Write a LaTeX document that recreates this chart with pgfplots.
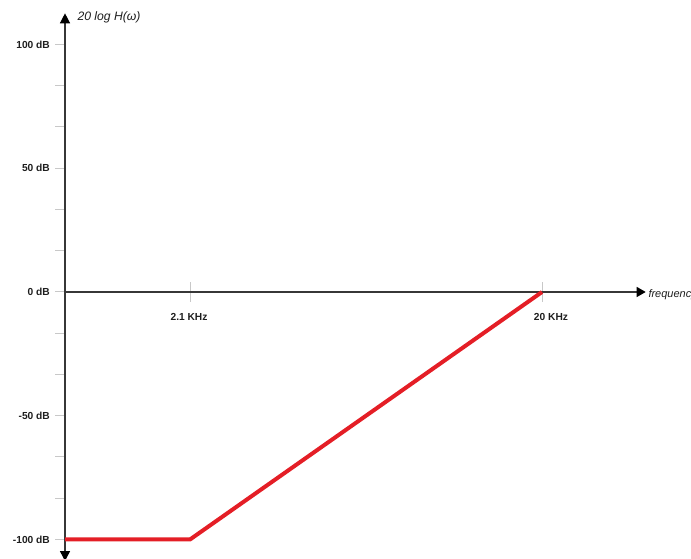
\documentclass[border=0pt]{standalone}
\usepackage{fontspec}
\setmainfont{Liberation Sans}
\usepackage{pgfplots}
\pgfplotsset{compat=1.18}
\usetikzlibrary{arrows.meta}
\definecolor{redline}{RGB}{228,30,38}
\definecolor{axisgray}{RGB}{55,55,55}
\definecolor{tickgray}{RGB}{200,200,200}
\definecolor{labelgray}{RGB}{30,30,30}
\begin{document}
\begin{tikzpicture}
\begin{axis}[scale only axis, width=691pt, height=559pt,
  xmin=-65, xmax=626, ymin=-107.88, ymax=117.98,
  axis lines=none, clip=false]
% y tick marks
\pgfplotsinvokeforeach{-100,-83.333,-66.667,-50,-33.333,-16.667,0,16.667,33.333,50,66.667,83.333,100}{
  \draw[tickgray, line width=1pt] (axis cs:-10,#1) -- (axis cs:0,#1);
}
% x tick marks
\draw[tickgray, line width=1pt] (axis cs:125,-4.04) -- (axis cs:125,4.04);
\draw[tickgray, line width=1pt] (axis cs:477,-4.04) -- (axis cs:477,4.04);
% axes
\draw[axisgray, line width=1.3pt, -{Triangle[length=9pt,width=10pt,color=black]}] (axis cs:0,0) -- (axis cs:580.7,0);
\draw[axisgray, line width=1.3pt, {Triangle[length=10pt,width=10pt,color=black]}-{Triangle[length=10pt,width=10pt,color=black]}] (axis cs:0,-108.7) -- (axis cs:0,112.6);
% y tick labels
\foreach \v/\t in {100/100 dB,50/50 dB,0/0 dB,-50/-50 dB,-100/-100 dB}{
  \edef\temp{\noexpand\node[anchor=east, text=labelgray, font=\noexpand\bfseries\noexpand\fontsize{10.2}{11}\noexpand\selectfont, inner sep=0pt] at (axis cs:-15,\v) {\t};}
  \temp
}
% x tick labels
\node[text=labelgray, font=\bfseries\fontsize{10.2}{11}\selectfont, inner sep=0pt] at (axis cs:124,-10) {2.1 KHz};
\node[text=labelgray, font=\bfseries\fontsize{10.2}{11}\selectfont, inner sep=0pt] at (axis cs:486,-10) {20 KHz};
% axis labels
\node[anchor=west, text=labelgray, font=\itshape\fontsize{12.2}{14}\selectfont, inner sep=0pt] at (axis cs:12.3,111) {20 log H(ω)};
\node[anchor=west, text=labelgray, font=\itshape\fontsize{11}{13}\selectfont, inner sep=0pt] at (axis cs:583.3,-1.2) {frequency};
% data
\addplot[redline, line width=4pt, line join=round] coordinates {(0,-100) (125,-100) (477,0)};
\end{axis}
\pgfresetboundingbox
\path[use as bounding box] (current axis.south west) rectangle (current axis.north east);
\end{tikzpicture}
\end{document}
